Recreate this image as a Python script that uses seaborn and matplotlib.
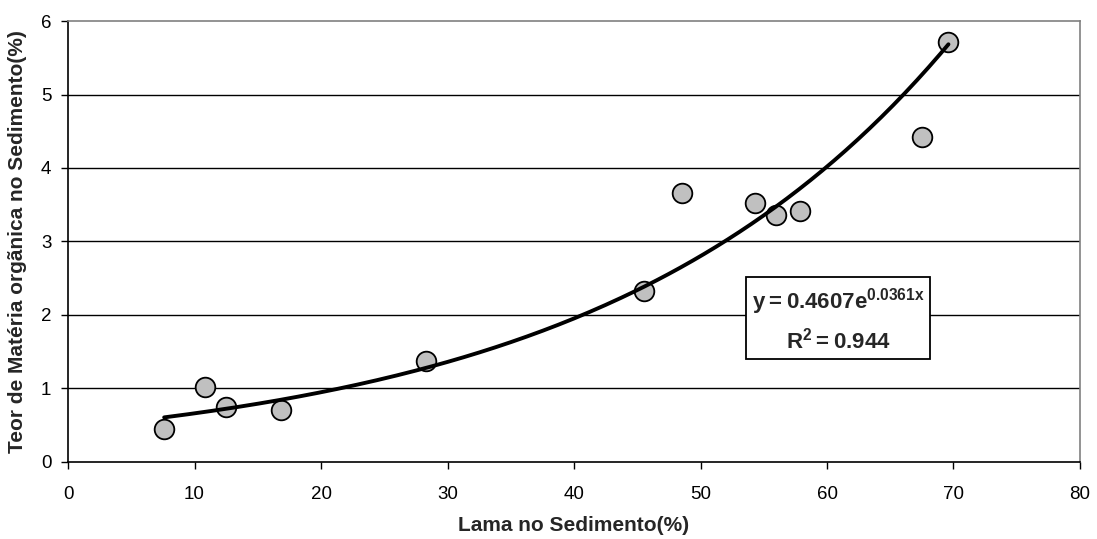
import numpy as np
import pandas as pd
import matplotlib
matplotlib.use("Agg")
import matplotlib.pyplot as plt
import seaborn as sns

# Data
lama = [7.6, 10.8, 12.5, 16.8, 28.3, 45.5, 48.5, 54.3, 56.0, 57.9, 67.5, 69.6]
materia_org = [0.45, 1.02, 0.75, 0.71, 1.37, 2.33, 3.66, 3.52, 3.36, 3.41, 4.42, 5.71]

# Exponential trendline coefficients shown in the chart
coef_a = 0.4607
coef_b = 0.0361
r2_label = "0.944"

x_ticks = [0, 10, 20, 30, 40, 50, 60, 70, 80]
y_ticks = [0, 1, 2, 3, 4, 5, 6]

data = pd.DataFrame({"lama": lama, "mo": materia_org})
x_fit = np.linspace(min(lama), max(lama), 200)
trend = pd.DataFrame({"x": x_fit, "y": coef_a * np.exp(coef_b * x_fit)})

sns.set_style("white")
plt.rcParams["font.family"] = ["Liberation Sans", "DejaVu Sans"]
plt.rcParams["mathtext.fontset"] = "custom"
plt.rcParams["mathtext.rm"] = "Liberation Sans"
plt.rcParams["mathtext.bf"] = "Liberation Sans:bold"

fig = plt.figure(figsize=(10.97, 5.39), dpi=100)
ax = fig.add_axes([0.062, 0.143, 0.9225, 0.818])

# Gridlines
for yv in y_ticks[1:-1]:
    ax.axhline(yv, color="black", lw=1.0, zorder=0)

sns.scatterplot(data=data, x="lama", y="mo", ax=ax, s=200, color="#c0c0c0",
                edgecolor="black", linewidth=1.3, zorder=2)
sns.lineplot(data=trend, x="x", y="y", ax=ax, color="black", lw=2.8, zorder=3)

ax.set_xlim(0, 80)
ax.set_ylim(0, 6)
ax.set_xticks(x_ticks)
ax.set_yticks(y_ticks)
ax.tick_params(axis="both", direction="out", length=5, width=1, labelsize=13.5,
               bottom=True, left=True, colors="black")
ax.tick_params(axis="x", pad=12)
ax.tick_params(axis="y", pad=7)

for side in ["left", "bottom"]:
    ax.spines[side].set_color("black")
    ax.spines[side].set_linewidth(1.2)
for side in ["top", "right"]:
    ax.spines[side].set_color("#808080")
    ax.spines[side].set_linewidth(1.2)

ax.set_xlabel("Lama no Sedimento(%)", fontsize=15, fontweight="bold", labelpad=10)
ax.set_ylabel("Teor de Matéria orgãnica no Sedimento(%)", fontsize=15,
              fontweight="bold", labelpad=10)

eq = (r"$\mathbf{y = %s e^{%sx}}$" % (coef_a, coef_b)) + "\n" + \
     (r"$\mathbf{R^{2} = %s}$" % r2_label)
ax.text(60.9, 1.93, eq, fontsize=16, ha="center", va="center",
        multialignment="center", zorder=4, linespacing=1.5,
        bbox=dict(boxstyle="square,pad=0.25", facecolor="white",
                  edgecolor="black", linewidth=1.3))

fig.savefig("out.png", dpi=100)
